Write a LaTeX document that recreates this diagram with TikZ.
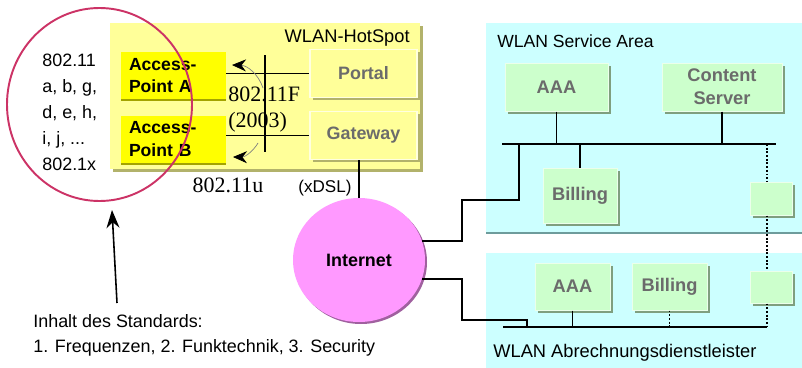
\documentclass[tikz,border=0pt]{standalone}
\usepackage{fontspec}
\setmainfont{Liberation Sans}
\newfontfamily\serifnum{Liberation Serif}
\usepackage{xcolor}
\usepackage{tikz}
\usetikzlibrary{shapes.geometric,shadows,arrows.meta}

\definecolor{hsyellow}{HTML}{FFFF99}
\definecolor{hsshadow}{HTML}{B2B26B}
\definecolor{apyellow}{HTML}{FFFF00}
\definecolor{apshadow}{HTML}{A3A300}
\definecolor{areacyan}{HTML}{CCFFFF}
\definecolor{areashadow}{HTML}{6E9C9C}
\definecolor{srvgreen}{HTML}{CCFFCC}
\definecolor{srvshadow}{HTML}{7F9F7F}
\definecolor{netpink}{HTML}{FF99FF}
\definecolor{netshadow}{HTML}{A0609F}
\definecolor{stdred}{HTML}{CC3366}
\definecolor{labelgray}{HTML}{6B6B6B}

\tikzset{
  hotspot/.style={rectangle, fill=hsyellow, minimum width=62mm, minimum height=29.2mm,
    drop shadow={fill=hsshadow, opacity=1, shadow xshift=0.6mm, shadow yshift=-0.6mm}},
  ap/.style={rectangle, fill=apyellow, minimum width=21mm, minimum height=9.4mm,
    inner xsep=1.6mm, text width=17.8mm, align=left,
    font=\fontsize{10}{13}\selectfont\bfseries,
    drop shadow={fill=apshadow, opacity=1, shadow xshift=0mm, shadow yshift=-0.4mm}},
  hsbox/.style={rectangle, fill=hsyellow, draw=white!70!hsyellow, line width=0.3mm,
    minimum width=21.4mm, minimum height=9.6mm, text=labelgray,
    font=\fontsize{10.2}{12}\selectfont\bfseries,
    drop shadow={fill=hsshadow, opacity=1, shadow xshift=0.5mm, shadow yshift=-0.5mm}},
  area/.style={rectangle, fill=areacyan, minimum width=64mm,
    drop shadow={fill=areashadow, opacity=1, shadow xshift=0mm, shadow yshift=-0.4mm}},
  srv/.style={rectangle, fill=srvgreen, draw=white!60!srvgreen, line width=0.2mm,
    text=labelgray, align=center, font=\fontsize{10.4}{13}\selectfont\bfseries,
    drop shadow={fill=srvshadow, opacity=1, shadow xshift=0.5mm, shadow yshift=-0.5mm}},
  link/.style={line width=1.1pt},
  dotlink/.style={line width=1.1pt, densely dotted},
  wireless/.style={gray, line width=0.4pt, -{Stealth[black, length=2.8mm, width=2.4mm]}},
  areatext/.style={anchor=west, inner sep=0pt, font=\fontsize{10}{12}\selectfont},
}

\begin{document}
\begin{tikzpicture}[x=0.2mm, y=-0.2mm]
    \useasboundingbox (0,0) rectangle (802,367);
    \clip (0,0) rectangle (802,367);

    % WLAN hotspot
    \node[hotspot] (hs) at (265,96) {};
    \node[anchor=east, inner sep=0pt, font=\fontsize{10.4}{12}\selectfont] (hslabel) at (410,38) {WLAN-HotSpot};
    \node[ap] (apA) at (173.5,75.5) {Access-\\Point A};
    \node[ap] (apB) at (173.5,139) {Access-\\Point B};
    \node[hsbox] (portal) at (363.5,73.5) {Portal};
    \node[hsbox] (gateway) at (363.5,135.5) {Gateway};

    \coordinate (vtop) at (265,55);
    \coordinate (vbot) at (265,152);
    \draw[link] (apA.east |- portal.west) -- (portal.west);
    \draw[link] (apB.east |- gateway.west) -- (gateway.west);
    \draw[link] (vtop) -- (vbot);

    \coordinate (fAs) at (263,88);
    \coordinate (fAe) at (232,65);
    \coordinate (fBs) at (258,143);
    \coordinate (fBe) at (233,157);
    \draw[wireless] (fAs) to[bend right=35] (fAe);
    \draw[wireless] (fBs) to[bend left=30] (fBe);

    \node[anchor=west, inner sep=0pt, align=left, font=\serifnum\fontsize{12.5}{14.8}\selectfont] (iapp) at (228,110) {802.11F\\(2003)};
    \node[font=\serifnum\fontsize{12.5}{14.8}\selectfont] (ieeeu) at (228,185) {802.11u};

    % standards circle
    \node[ellipse, draw=stdred, line width=1.1pt, minimum width=37mm, minimum height=38.6mm] (std) at (99.5,104.5) {};
    \node[anchor=west, inner sep=0pt, align=left, font=\fontsize{10.2}{14.8}\selectfont] (stdlist) at (42,112)
        {802.11\\a, b, g,\\d, e, h,\\i, j, ...\\802.1x};

    \node[anchor=west, inner sep=0pt, align=left, font=\fontsize{10.2}{14.2}\selectfont] (note) at (33,335.5)
        {Inhalt des Standards:\\1. Frequenzen, 2. Funktechnik, 3. Security};
    \coordinate (notetop) at (117,303);
    \coordinate (stdtip) at (112,210);
    \draw[line width=0.9pt, -{Stealth[length=3.6mm, width=2.6mm]}] (notetop) -- (stdtip);

    % internet
    \node[ellipse, fill=netpink, minimum width=26.4mm, minimum height=24.8mm,
        font=\fontsize{10.2}{12}\selectfont\bfseries,
        drop shadow={fill=netshadow, opacity=1, shadow xshift=0.4mm, shadow yshift=-0.4mm}] (inet) at (359,260) {Internet};
    \node[font=\fontsize{9.7}{12}\selectfont] (xdsl) at (325,188) {(xDSL)};
    \draw[link] (gateway.south -| inet.north) -- (inet.north);

    % WLAN service area
    \node[area, minimum height=41.8mm] (svc) at (646,127.5) {};
    \node[areatext] (svclabel) at (497,41) {WLAN Service Area};
    \node[srv, minimum width=20.6mm, minimum height=9.6mm] (aaaS) at (556.5,87) {AAA};
    \node[srv, minimum width=24mm, minimum height=9.6mm] (content) at (722,87) {Content\\Server};
    \node[srv, minimum width=14.8mm, minimum height=11mm] (billS) at (580,195.5) {Billing};
    \node[srv, minimum width=8.4mm, minimum height=6.6mm] (relayS) at (771,198.5) {};

    \coordinate (busSw) at (502,144);
    \coordinate (busSe) at (776,144);
    \coordinate (jS) at (519,144);
    \draw[link] (busSw) -- (busSe);
    \draw[link] (aaaS.south) -- (aaaS.south |- busSw);
    \draw[link] (content.south) -- (content.south |- busSw);
    \draw[link] (billS.north |- busSw) -- (billS.north);
    \draw[link] (inet.17) -- ++(40,0) |- (519,200) -- (jS);

    % WLAN Abrechnungsdienstleister
    \node[area, minimum height=23.6mm] (acc) at (646,312) {};
    \node[areatext, font=\fontsize{10.4}{12}\selectfont] (acclabel) at (493,353) {WLAN Abrechnungsdienstleister};
    \node[srv, minimum width=15mm, minimum height=9.4mm] (aaaA) at (572.5,286.5) {AAA};
    \node[srv, minimum width=15mm, minimum height=9.4mm] (billA) at (669.5,286.5) {Billing};
    \node[srv, minimum width=8.4mm, minimum height=6.4mm] (relayA) at (771,287) {};

    \coordinate (busAw) at (503,327);
    \coordinate (busAe) at (767,327);
    \coordinate (jA) at (527,327);
    \draw[link] (busAw) -- (busAe);
    \draw[link] (aaaA.south) -- (aaaA.south |- busAw);
    \draw[dotlink] (billA.south) -- (billA.south |- busAw);
    \draw[link] (inet.-17) -- ++(40,0) |- (527,320) -- (jA);

    % dotted link between the two areas
    \coordinate (dtop) at (767,144);
    \draw[dotlink] (dtop) -- (dtop |- relayS.north);
    \draw[dotlink] (dtop |- relayS.south) -- (dtop |- relayA.north);
    \draw[dotlink] (dtop |- relayA.south) -- (busAe);
\end{tikzpicture}
\end{document}
